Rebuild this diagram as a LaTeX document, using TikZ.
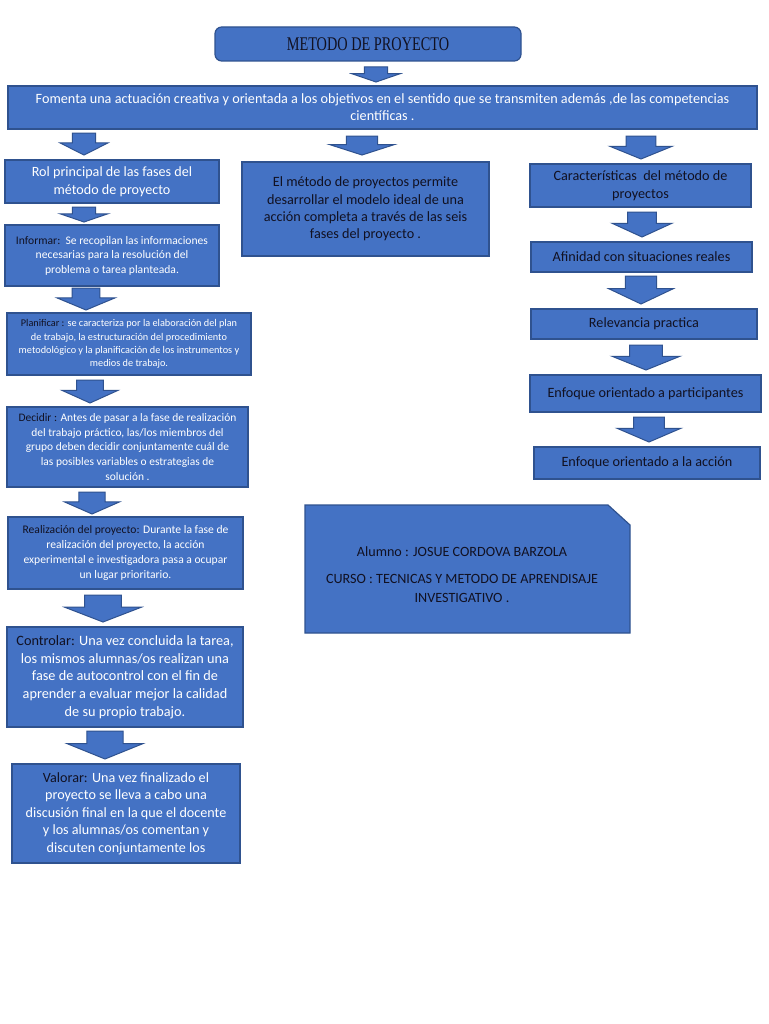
\documentclass[tikz,border=0pt]{standalone}
\usepackage{fontspec}
\setmainfont{Carlito}
\newfontfamily\titlefont{Liberation Serif}
\definecolor{bfill}{HTML}{4472C4}
\definecolor{bline}{HTML}{2F528F}
\definecolor{dtext}{HTML}{111122}
\newcommand\fs[2]{\fontsize{#1}{#2}\selectfont}
\tikzset{
  box/.style={draw=bline, fill=bfill, line width=0.9pt, inner sep=1pt, align=center, text=white, font=\fs{10.65}{13.3}},
  darkbox/.style={box, text=dtext},
  arrowsty/.style={draw=bline, fill=bfill, line width=0.75pt, line join=miter},
}
\newcommand\bx[7][]{%
  \pgfmathsetmacro\cx{(#3+#5)/2}\pgfmathsetmacro\cy{(#4+#6)/2}%
  \pgfmathsetmacro\ww{(#5-#3)*0.75}\pgfmathsetmacro\hh{(#6-#4)*0.75}%
  \node[box,#1,minimum width=\ww pt,minimum height=\hh pt] (#2) at (\cx,\cy) {#7};}
\newcommand\darr[4]{%
  \pgfmathsetmacro\sw{0.24*#3}\pgfmathsetmacro\hw{#3/2}\pgfmathsetmacro\my{#2+0.45*#4}%
  \draw[arrowsty] ({#1-\sw},#2) -- ({#1+\sw},#2) -- ({#1+\sw},\my) -- ({#1+\hw},\my)
    -- (#1,{#2+#4}) -- ({#1-\hw},\my) -- ({#1-\sw},\my) -- cycle;}
\newcommand\lbl[1]{\textcolor{dtext}{#1}}
\begin{document}
\begin{tikzpicture}[x=0.75pt,y=-0.75pt]
\useasboundingbox (0,0) rectangle (768,1024);
\fill[white] (0,0) rectangle (768,1024);
% title
\bx[rounded corners=5pt,text=dtext,font=\titlefont\fs{14.5}{16}]{title}{215}{27}{521}{61}{\scalebox{0.74}[1]{METODO DE PROYECTO}}
\darr{376}{67}{48}{15}
\bx[font=\fs{10.65}{12.8}]{fom}{8}{86}{757}{129}{Fomenta una actuación creativa y orientada a los objetivos en el sentido que se transmiten además ,de las competencias\\ científicas .}
\darr{84}{133}{48}{22}
\darr{362}{136}{65}{19}
\darr{641}{136}{62}{23}
% left column
\bx[font=\fs{10.6}{13.5}]{rol}{5}{160}{219}{203}{Rol principal de las fases del\\método de proyecto}
\darr{84}{207}{48}{15}
\bx[font=\fs{8.7}{10.9}]{inf}{5}{225}{219}{286}{\lbl{Informar:}\ \ Se recopilan las informaciones\\necesarias para la resolución del\\problema o tarea planteada.}
\darr{86}{288}{58}{22}
\bx[font=\fs{7.7}{10}]{pla}{7}{313}{251}{375}{\lbl{Planificar :} se caracteriza por la elaboración del plan\\de trabajo, la estructuración del procedimiento\\metodológico y la planificación de los instrumentos y\\medios de trabajo.}
\darr{90}{380}{56}{23}
\bx[font=\fs{8.6}{10.9}]{dec}{7}{407}{248}{487}{\lbl{Decidir :} Antes de pasar a la fase de realización\\del trabajo práctico, las/los miembros del\\grupo deben decidir conjuntamente cuál de\\las posibles variables o estrategias de\\solución .}
\darr{92}{492}{55}{22}
\bx[font=\fs{8.7}{11.25}]{rea}{8}{517}{243}{589}{\lbl{Realización del proyecto:} Durante la fase de\\realización del proyecto, la acción\\experimental e investigadora pasa a ocupar\\un lugar prioritario.}
\darr{103}{595}{77}{27}
\bx[font=\fs{10.7}{13.3}]{con}{7}{627}{243}{727}{\lbl{Controlar:} Una vez concluida la tarea,\\los mismos alumnas/os realizan una\\fase de autocontrol con el fin de\\aprender a evaluar mejor la calidad\\de su propio trabajo.}
\darr{105}{731}{76}{28}
\bx[font=\fs{10.6}{13.1}]{val}{12}{764}{240}{863}{\lbl{Valorar:} Una vez finalizado el\\proyecto se lleva a cabo una\\discusión final en la que el docente\\y los alumnas/os comentan y\\discuten conjuntamente los}
% middle
\bx[darkbox,font=\fs{10.65}{13}]{mid}{242}{162}{489}{256}{El método de proyectos permite\\desarrollar el modelo ideal de una\\acción completa a través de las seis\\fases del proyecto .}
% right column
\bx[darkbox,font=\fs{10.65}{13.5}]{car}{530}{164}{751}{207}{Características\ \ del método de\\proyectos}
\darr{642}{212}{60}{25}
\bx[darkbox]{afi}{531}{242}{752}{272}{Afinidad con situaciones reales}
\darr{641}{276}{65}{28}
\bx[darkbox]{rel}{531}{309}{757}{339}{Relevancia practica}
\darr{646}{345}{68}{25}
\bx[darkbox]{par}{530}{375}{761}{412}{Enfoque orientado a participantes}
\darr{649}{417}{64}{25}
\bx[darkbox]{acc}{534}{447}{760}{479}{Enfoque orientado a la acción}
% alumno box
\draw[draw=bline, fill=bfill, line width=0.9pt] (305,505) -- (608,505) -- (630,525) -- (630,633) -- (305,633) -- cycle;
\node[text=dtext, align=center, font=\fs{10.6}{14}] (alu) at (462,552) {Alumno : JOSUE CORDOVA BARZOLA};
\node[text=dtext, align=center, font=\fs{10.6}{14.2}] (cur) at (462,588) {CURSO : TECNICAS Y METODO DE APRENDISAJE\\INVESTIGATIVO .};
\end{tikzpicture}
\end{document}
